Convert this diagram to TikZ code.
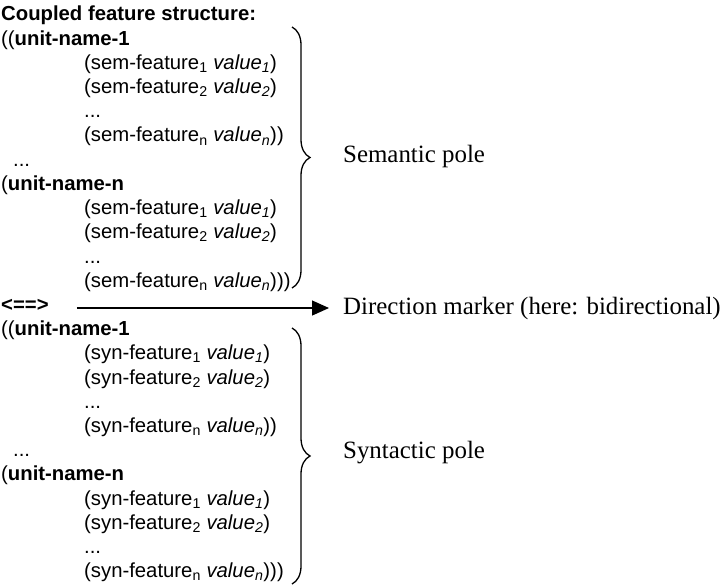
\documentclass[tikz,border=0pt]{standalone}
\usepackage{fontspec}
\setmainfont{Liberation Serif}
\setsansfont{Liberation Sans}
\usetikzlibrary{positioning}
\usetikzlibrary{arrows.meta}
\usetikzlibrary{decorations.pathreplacing}
\usetikzlibrary{calc}

\newcommand{\semfeat}[1]{(sem-feature\textsubscript{#1} \textit{value\textsubscript{#1}})}
\newcommand{\synfeat}[1]{(syn-feature\textsubscript{#1} \textit{value\textsubscript{#1}})}

\begin{document}
\begin{tikzpicture}[x=1pt, y=1pt,
    fs/.style={font=\sffamily\fontsize{20.3}{24}\selectfont, anchor=base west, inner sep=0pt},
    pole/.style={font=\fontsize{24.9}{30}\selectfont, anchor=base west, inner sep=0pt},
    curly/.style={decorate, decoration={brace, amplitude=18pt}, line width=1.3pt}]
  \useasboundingbox (0,0) rectangle (722,-588);

  % Set the line pitch of the feature structure
  \def\pitch{24.2}

  % Calculate the baseline of each row
  \foreach \i in {0,...,23} {
    \coordinate (r\i) at (0, {-21 - \pitch*\i});
  }

  % Semantic pole
  \node[fs] (title) at ([xshift=1pt]r0) {\textbf{Coupled feature structure:}};
  \node[fs] (semu1) at ([xshift=1pt]r1) {((\textbf{unit-name-1}};
  \node[fs] (sema1) at ([xshift=84pt]r2) {\semfeat{1}};
  \node[fs] (sema2) at ([xshift=84pt]r3) {\semfeat{2}};
  \node[fs] (semad) at ([xshift=84pt]r4) {...};
  \node[fs] (seman) at ([xshift=84pt]r5) {\semfeat{n})};
  \node[fs] (semdots) at ([xshift=13pt]r6) {...};
  \node[fs] (semun) at ([xshift=1pt]r7) {(\textbf{unit-name-n}};
  \node[fs] (semb1) at ([xshift=84pt]r8) {\semfeat{1}};
  \node[fs] (semb2) at ([xshift=84pt]r9) {\semfeat{2}};
  \node[fs] (sembd) at ([xshift=84pt]r10) {...};
  \node[fs] (sembn) at ([xshift=84pt]r11) {\semfeat{n}))};

  % Direction marker
  \node[fs] (marker) at ([xshift=1pt]r12) {\textbf{<==>}};

  % Syntactic pole
  \node[fs] (synu1) at ([xshift=1pt]r13) {((\textbf{unit-name-1}};
  \node[fs] (syna1) at ([xshift=84pt]r14) {\synfeat{1}};
  \node[fs] (syna2) at ([xshift=84pt]r15) {\synfeat{2}};
  \node[fs] (synad) at ([xshift=84pt]r16) {...};
  \node[fs] (synan) at ([xshift=84pt]r17) {\synfeat{n})};
  \node[fs] (syndots) at ([xshift=13pt]r18) {...};
  \node[fs] (synun) at ([xshift=1pt]r19) {(\textbf{unit-name-n}};
  \node[fs] (synb1) at ([xshift=84pt]r20) {\synfeat{1}};
  \node[fs] (synb2) at ([xshift=84pt]r21) {\synfeat{2}};
  \node[fs] (synbd) at ([xshift=84pt]r22) {...};
  \node[fs] (synbn) at ([xshift=84pt]r23) {\synfeat{n}))};

  % Labels on the right
  \node[pole] (sempole) at (343,-163) {Semantic pole};
  \node[pole] (dir) at (343,-314) {Direction marker (here: bidirectional)};
  \node[pole] (synpole) at (343,-458) {Syntactic pole};

  % Braces round the two poles
  \coordinate (semtop) at (292,-27);
  \coordinate (sembot) at (292,-288);
  \coordinate (syntop) at (292,-328);
  \coordinate (synbot) at (292,-584);
  \draw[curly] (semtop) -- (sembot);
  \draw[curly] (syntop) -- (synbot);

  % Arrow to the direction marker
  \coordinate (arrowstart) at ($(marker.east)+(28,0)$);
  \draw[-{Triangle[length=17pt,width=15pt]}, line width=1.2pt, shorten >=14pt]
    (arrowstart |- dir.west) -- (dir.west);
\end{tikzpicture}
\end{document}
